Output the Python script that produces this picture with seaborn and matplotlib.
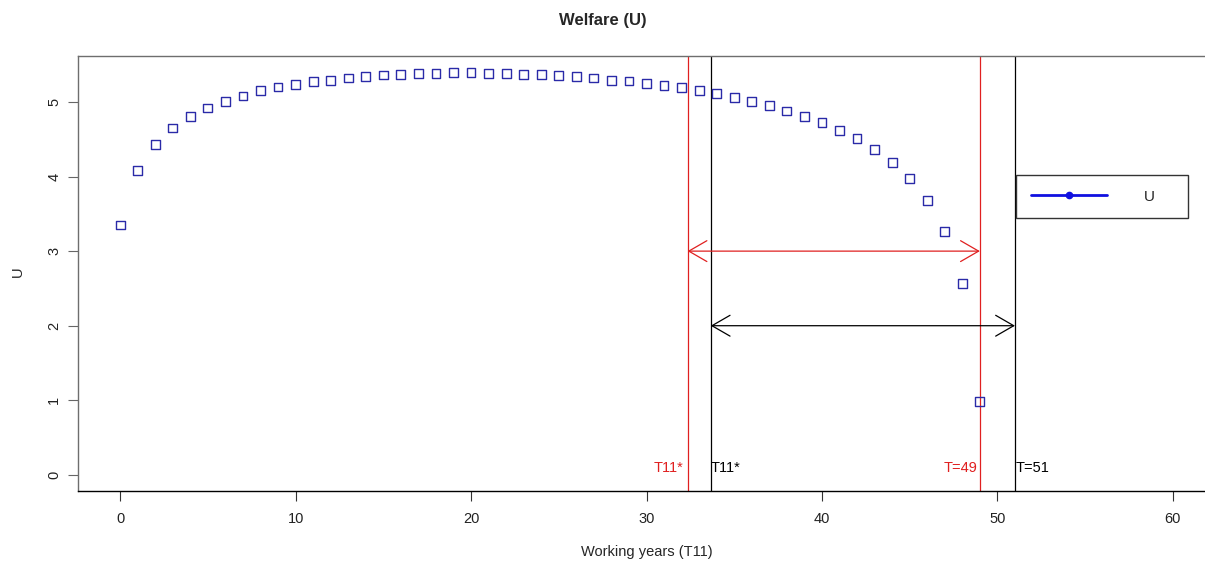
import matplotlib
matplotlib.use('Agg')
import matplotlib.pyplot as plt
from matplotlib.lines import Line2D
import seaborn as sns

# working years and welfare values
years = list(range(50))
welfare = [3.35, 4.08, 4.43, 4.65, 4.80, 4.92, 5.01, 5.08, 5.15, 5.20,
           5.23, 5.27, 5.29, 5.32, 5.34, 5.36, 5.37, 5.38, 5.38, 5.39,
           5.39, 5.38, 5.38, 5.37, 5.37, 5.35, 5.34, 5.32, 5.29, 5.28,
           5.25, 5.22, 5.19, 5.15, 5.11, 5.06, 5.01, 4.95, 4.88, 4.80,
           4.72, 4.62, 4.51, 4.36, 4.19, 3.97, 3.68, 3.26, 2.57, 0.98]

# optimal T11 and T markers (red: T=49, black: T=51)
t11_opt = [32.34, 33.66]
t_end = [49, 51]
arrow_y = [3, 2]
marker_colors = ['#e02020', 'black']
t11_labels = ['T11*', 'T11*']
t_labels = ['T=49', 'T=51']

x_ticks = [0, 10, 20, 30, 40, 50, 60]
y_ticks = [0, 1, 2, 3, 4, 5]


def make_plot(out_path):
    sns.set_style('white')
    plt.rcParams['font.family'] = ['Liberation Sans', 'DejaVu Sans']

    fig = plt.figure(figsize=(12.05, 5.62), dpi=100)
    ax = fig.add_axes([78 / 1205, 71 / 562, 1137 / 1205, 435 / 562])

    sns.scatterplot(x=years, y=welfare, marker='s', s=40,
                    facecolor='none', edgecolor='#2a2aa8', linewidth=1.0,
                    ax=ax, zorder=3)

    for i in range(2):
        c = marker_colors[i]
        ax.axvline(t11_opt[i], color=c, lw=0.9, zorder=2)
        ax.axvline(t_end[i], color=c, lw=0.9, zorder=2)
        ax.annotate('', xy=(t11_opt[i], arrow_y[i]), xytext=(t_end[i], arrow_y[i]),
                    arrowprops=dict(arrowstyle='<->,head_length=1.3,head_width=0.75',
                                    color=c, lw=0.9, shrinkA=0, shrinkB=0))

    ax.text(t11_opt[0] - 0.25, 0.09, t11_labels[0], color=marker_colors[0],
            ha='right', va='center', fontsize=10.5)
    ax.text(t11_opt[1] + 0.02, 0.09, t11_labels[1], color=marker_colors[1],
            ha='left', va='center', fontsize=10.5)
    ax.text(t_end[0] - 0.15, 0.09, t_labels[0], color=marker_colors[0],
            ha='right', va='center', fontsize=10.5)
    ax.text(t_end[1] + 0.02, 0.09, t_labels[1], color=marker_colors[1],
            ha='left', va='center', fontsize=10.5)

    ax.set_xlim(-2.4, 62.4)
    ax.set_ylim(-0.216, 5.616)
    ax.set_xticks(x_ticks)
    ax.set_yticks(y_ticks)
    ax.set_yticklabels([str(v) for v in y_ticks], rotation=90, va='center')
    ax.tick_params(axis='both', direction='out', length=7, width=0.8,
                   labelsize=10.5, labelcolor='#222222', pad=3,
                   bottom=True, left=True)
    ax.tick_params(axis='x', colors='#333333', labelcolor='#222222', pad=8)
    ax.tick_params(axis='y', colors='#666666', labelcolor='#222222', pad=5)
    for side in ['top', 'left', 'right']:
        ax.spines[side].set_color('#6e6e6e')
        ax.spines[side].set_linewidth(1.0)
    ax.spines['bottom'].set_color('black')
    ax.spines['bottom'].set_linewidth(1.0)

    handle = Line2D([0], [0], color='#1010e0', lw=2, marker='o', markersize=4.5)
    leg = ax.legend([handle], ['U'], loc='upper left',
                    bbox_to_anchor=(1016 / 1205, 1 - 219 / 562, 172 / 1205, 44 / 562),
                    bbox_transform=fig.transFigure, mode='expand',
                    borderaxespad=0, fancybox=False, framealpha=1,
                    edgecolor='#333333', fontsize=11, handlelength=5.0,
                    handletextpad=2.4, borderpad=0.95)
    leg.get_frame().set_linewidth(1.0)

    fig.text(603 / 1205, 1 - 20 / 562, 'Welfare (U)', ha='center', va='center',
             fontsize=12, fontweight='bold')
    fig.text(647 / 1205, 1 - 552 / 562, 'Working years (T11)', ha='center',
             va='center', fontsize=10.5)
    fig.text(18 / 1205, 1 - 272 / 562, 'U', ha='center', va='center',
             rotation=90, fontsize=10.5)

    fig.savefig(out_path, dpi=100)


def main():
    make_plot('out.png')


if __name__ == "__main__":
    main()
